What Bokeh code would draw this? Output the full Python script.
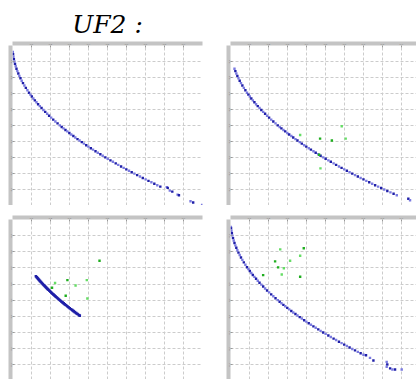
from bokeh.plotting import figure
from bokeh.layouts import column, row
from bokeh.models import FixedTicker, Range1d
from bokeh.embed import file_html
from bokeh.resources import INLINE

TITLE = "UF2 :"
TICKS = [0.1, 0.2, 0.3, 0.4, 0.5, 0.6, 0.7, 0.8, 0.9]

# ---- panel 1 (top-left): obtained front ----
p1_x = [0.0016, 0.0030, 0.0049, 0.0072, 0.0100, 0.0132, 0.0169, 0.0210, 0.0256, 0.0306,
        0.0361, 0.0420, 0.0484, 0.0552, 0.0625, 0.0702, 0.0784, 0.0870,
        0.0942, 0.1018, 0.1096, 0.1176, 0.1260, 0.1347, 0.1436, 0.1529, 0.1624, 0.1722,
        0.1823, 0.1927, 0.2034, 0.2144, 0.2256, 0.2372, 0.2490,
        0.2591, 0.2683, 0.2788, 0.2884, 0.2992, 0.3091, 0.3204, 0.3306, 0.3422, 0.3528,
        0.3648, 0.3758, 0.3881, 0.3994, 0.4122, 0.4238, 0.4369, 0.4489, 0.4624, 0.4747,
        0.4886, 0.5013, 0.5155, 0.5285, 0.5432, 0.5565,
        0.5715, 0.5852, 0.5991, 0.6131, 0.6273, 0.6416, 0.6561, 0.6708, 0.6856, 0.7006,
        0.7157, 0.7310, 0.7465, 0.7621, 0.7779,
        0.812, 0.817, 0.828, 0.841, 0.869, 0.876, 0.937, 0.951, 0.998]
p1_y = [0.960, 0.945, 0.930, 0.915, 0.900, 0.885, 0.870, 0.855, 0.840, 0.825,
        0.810, 0.795, 0.780, 0.765, 0.750, 0.735, 0.720, 0.705,
        0.693, 0.681, 0.669, 0.657, 0.645, 0.633, 0.621, 0.609, 0.597, 0.585,
        0.573, 0.561, 0.549, 0.537, 0.525, 0.513, 0.501,
        0.491, 0.482, 0.472, 0.463, 0.453, 0.444, 0.434, 0.425, 0.415, 0.406,
        0.396, 0.387, 0.377, 0.368, 0.358, 0.349, 0.339, 0.330, 0.320, 0.311,
        0.301, 0.292, 0.282, 0.273, 0.263, 0.254,
        0.244, 0.235, 0.226, 0.217, 0.208, 0.199, 0.190, 0.181, 0.172, 0.163,
        0.154, 0.145, 0.136, 0.127, 0.118,
        0.115, 0.110, 0.093, 0.087, 0.068, 0.064, 0.027, 0.019, 0.004]

# ---- panel 2 (top-right): front + green points ----
p2_x = [0.0210, 0.0256, 0.0306, 0.0361, 0.0420, 0.0484, 0.0552, 0.0625, 0.0702, 0.0784, 0.0870,
        0.0942, 0.1018, 0.1096, 0.1176, 0.1260, 0.1347, 0.1436, 0.1529, 0.1624, 0.1722,
        0.1823, 0.1927, 0.2034, 0.2144, 0.2256, 0.2372, 0.2490,
        0.2591, 0.2683, 0.2788, 0.2884, 0.2992, 0.3091, 0.3204, 0.3306, 0.3422, 0.3528,
        0.3648, 0.3758, 0.3881, 0.3994, 0.4122, 0.4238, 0.4369, 0.4489, 0.4624, 0.4747,
        0.4886, 0.5013, 0.5155, 0.5285, 0.5432, 0.5565,
        0.5715, 0.5852, 0.5991, 0.6131, 0.6273, 0.6416, 0.6561, 0.6708, 0.6856, 0.7006,
        0.7157, 0.7310, 0.7465, 0.7621, 0.7779, 0.7939, 0.8100, 0.8263, 0.8427, 0.8593,
        0.8761, 0.937, 0.946]
p2_y = [0.855, 0.840, 0.825, 0.810, 0.795, 0.780, 0.765, 0.750, 0.735, 0.720, 0.705,
        0.693, 0.681, 0.669, 0.657, 0.645, 0.633, 0.621, 0.609, 0.597, 0.585,
        0.573, 0.561, 0.549, 0.537, 0.525, 0.513, 0.501,
        0.491, 0.482, 0.472, 0.463, 0.453, 0.444, 0.434, 0.425, 0.415, 0.406,
        0.396, 0.387, 0.377, 0.368, 0.358, 0.349, 0.339, 0.330, 0.320, 0.311,
        0.301, 0.292, 0.282, 0.273, 0.263, 0.254,
        0.244, 0.235, 0.226, 0.217, 0.208, 0.199, 0.190, 0.181, 0.172, 0.163,
        0.154, 0.145, 0.136, 0.127, 0.118, 0.109, 0.100, 0.091, 0.082, 0.073,
        0.064, 0.042, 0.033]
g2_x = [0.367, 0.472, 0.586, 0.534, 0.607, 0.467, 0.474]
g2_y = [0.441, 0.418, 0.495, 0.406, 0.418, 0.317, 0.232]

# ---- panel 3 (bottom-left): short dense front + green points ----
p3_x = [0.1232, 0.1274, 0.1318, 0.1362, 0.1406, 0.1452, 0.1498, 0.1544, 0.1592, 0.1640,
        0.1689, 0.1739, 0.1789, 0.1840, 0.1892, 0.1945, 0.1998, 0.2052, 0.2107, 0.2162,
        0.2218, 0.2275, 0.2333, 0.2391, 0.2450, 0.2510, 0.2570, 0.2632, 0.2694, 0.2756,
        0.2820, 0.2884, 0.2948, 0.3014, 0.3080, 0.3147, 0.3215, 0.3283, 0.3352, 0.3422,
        0.3493, 0.3540]
p3_y = [0.649, 0.643, 0.637, 0.631, 0.625, 0.619, 0.613, 0.607, 0.601, 0.595,
        0.589, 0.583, 0.577, 0.571, 0.565, 0.559, 0.553, 0.547, 0.541, 0.535,
        0.529, 0.523, 0.517, 0.511, 0.505, 0.499, 0.493, 0.487, 0.481, 0.475,
        0.469, 0.463, 0.457, 0.451, 0.445, 0.439, 0.433, 0.427, 0.421, 0.415,
        0.409, 0.405]
g3_x = [0.224, 0.289, 0.391, 0.208, 0.332, 0.280, 0.394, 0.458]
g3_y = [0.607, 0.625, 0.625, 0.578, 0.592, 0.528, 0.511, 0.745]

# ---- panel 4 (bottom-right): front + green points ----
p4_x = [0.0021, 0.0030, 0.0049, 0.0072, 0.0100, 0.0132, 0.0169, 0.0210, 0.0256, 0.0306,
        0.0361, 0.0420, 0.0484, 0.0552, 0.0625, 0.0702, 0.0784, 0.0870,
        0.0942, 0.1018, 0.1096, 0.1176, 0.1260, 0.1347, 0.1436, 0.1529, 0.1624, 0.1722,
        0.1823, 0.1927, 0.2034, 0.2144, 0.2256, 0.2372, 0.2490,
        0.2591, 0.2683, 0.2788, 0.2884, 0.2992, 0.3091, 0.3204, 0.3306, 0.3422, 0.3528,
        0.3648, 0.3758, 0.3881, 0.3994, 0.4122, 0.4238, 0.4369, 0.4489, 0.4624, 0.4747,
        0.4886, 0.5013, 0.5155, 0.5285, 0.5432, 0.5565,
        0.5715, 0.5852, 0.5991, 0.6131, 0.6273, 0.6416, 0.6561, 0.6708, 0.6856, 0.7006,
        0.714, 0.735, 0.753,
        0.823, 0.826, 0.823, 0.841, 0.853, 0.867, 0.902]
p4_y = [0.954, 0.945, 0.930, 0.915, 0.900, 0.885, 0.870, 0.855, 0.840, 0.825,
        0.810, 0.795, 0.780, 0.765, 0.750, 0.735, 0.720, 0.705,
        0.693, 0.681, 0.669, 0.657, 0.645, 0.633, 0.621, 0.609, 0.597, 0.585,
        0.573, 0.561, 0.549, 0.537, 0.525, 0.513, 0.501,
        0.491, 0.482, 0.472, 0.463, 0.453, 0.444, 0.434, 0.425, 0.415, 0.406,
        0.396, 0.387, 0.377, 0.368, 0.358, 0.349, 0.339, 0.330, 0.320, 0.311,
        0.301, 0.292, 0.282, 0.273, 0.263, 0.254,
        0.244, 0.235, 0.226, 0.217, 0.208, 0.199, 0.190, 0.181, 0.172, 0.163,
        0.160, 0.144, 0.128,
        0.119, 0.103, 0.089, 0.079, 0.072, 0.072, 0.072]
g4_x = [0.262, 0.386, 0.367, 0.235, 0.314, 0.251, 0.281, 0.172, 0.270, 0.367]
g4_y = [0.815, 0.822, 0.776, 0.741, 0.745, 0.704, 0.698, 0.656, 0.660, 0.646]

BLUE_L = "#7a7ae0"
BLUE_D = "#1f1fa8"
GREEN_L = "#66dd66"
GREEN_D = "#1fae1f"
BAND = "#c4c4c4"


def make_panel(width, height, top, bottom, left, right, xr, yr, title=None):
    p = figure(width=width, height=height, output_backend="svg", toolbar_location=None,
               x_range=Range1d(*xr), y_range=Range1d(*yr), x_axis_location="above",
               min_border_top=top, min_border_bottom=bottom,
               min_border_left=left, min_border_right=right)
    p.outline_line_color = None
    p.background_fill_color = "white"
    p.border_fill_color = "white"
    for ax in (p.xaxis[0], p.yaxis[0]):
        ax.ticker = FixedTicker(ticks=TICKS)
        ax.axis_line_color = None
        ax.major_tick_in = 2
        ax.major_tick_out = 0
        ax.minor_tick_line_color = None
        ax.major_tick_line_color = "#999999"
        ax.major_label_standoff = 0
        ax.major_label_text_font_size = "2.5px"
        ax.major_label_text_color = "#777777"
        ax.background_fill_color = BAND
    p.yaxis[0].major_label_orientation = "vertical"
    p.xgrid.ticker = FixedTicker(ticks=TICKS)
    p.ygrid.ticker = FixedTicker(ticks=TICKS)
    p.grid.grid_line_color = "#cccccc"
    p.grid.grid_line_dash = "3 2"
    p.grid.grid_line_width = 1
    if title:
        p.title.text = title
        p.title.text_font = "DejaVu Serif"
        p.title.text_font_style = "italic"
        p.title.text_font_size = "25px"
        p.title.align = "center"
        p.title.standoff = 5
        p.title.text_color = "black"
    return p


def alt(n, a, b):
    return [a if i % 2 else b for i in range(n)]


f1 = make_panel(220, 205, 44, 0, 12, 18, (0, 1.0), (0, 1.0), TITLE)
f1.scatter(p1_x, p1_y, marker="square", size=2.4, line_color=None,
           fill_color=alt(len(p1_x), BLUE_D, BLUE_L))

f2 = make_panel(196, 205, 45, 0, 10, 0, (0, 0.98), (0, 1.0))
f2.scatter(p2_x, p2_y, marker="square", size=2.4, line_color=None,
           fill_color=alt(len(p2_x), BLUE_D, BLUE_L))
f2.scatter(g2_x, g2_y, marker="square", size=2.4, line_color=None,
           fill_color=alt(len(g2_x), GREEN_D, GREEN_L))

f3 = make_panel(220, 174, 14, 0, 12, 18, (0, 1.0), (0.01, 1.0))
f3.line(p3_x, p3_y, line_color=BLUE_D, line_width=2)
f3.scatter(p3_x, p3_y, marker="square", size=2.6, line_color=None, fill_color=BLUE_D)
f3.scatter(g3_x, g3_y, marker="square", size=2.4, line_color=None,
           fill_color=alt(len(g3_x), GREEN_D, GREEN_L))

f4 = make_panel(196, 174, 14, 0, 10, 0, (0, 0.98), (0.01, 1.0))
f4.scatter(p4_x, p4_y, marker="square", size=2.4, line_color=None,
           fill_color=alt(len(p4_x), BLUE_D, BLUE_L))
f4.scatter(g4_x, g4_y, marker="square", size=2.4, line_color=None,
           fill_color=alt(len(g4_x), GREEN_D, GREEN_L))

layout = column(row(f1, f2, spacing=0), row(f3, f4, spacing=0), spacing=0)
open("out.html", "w").write(file_html(layout, INLINE))
